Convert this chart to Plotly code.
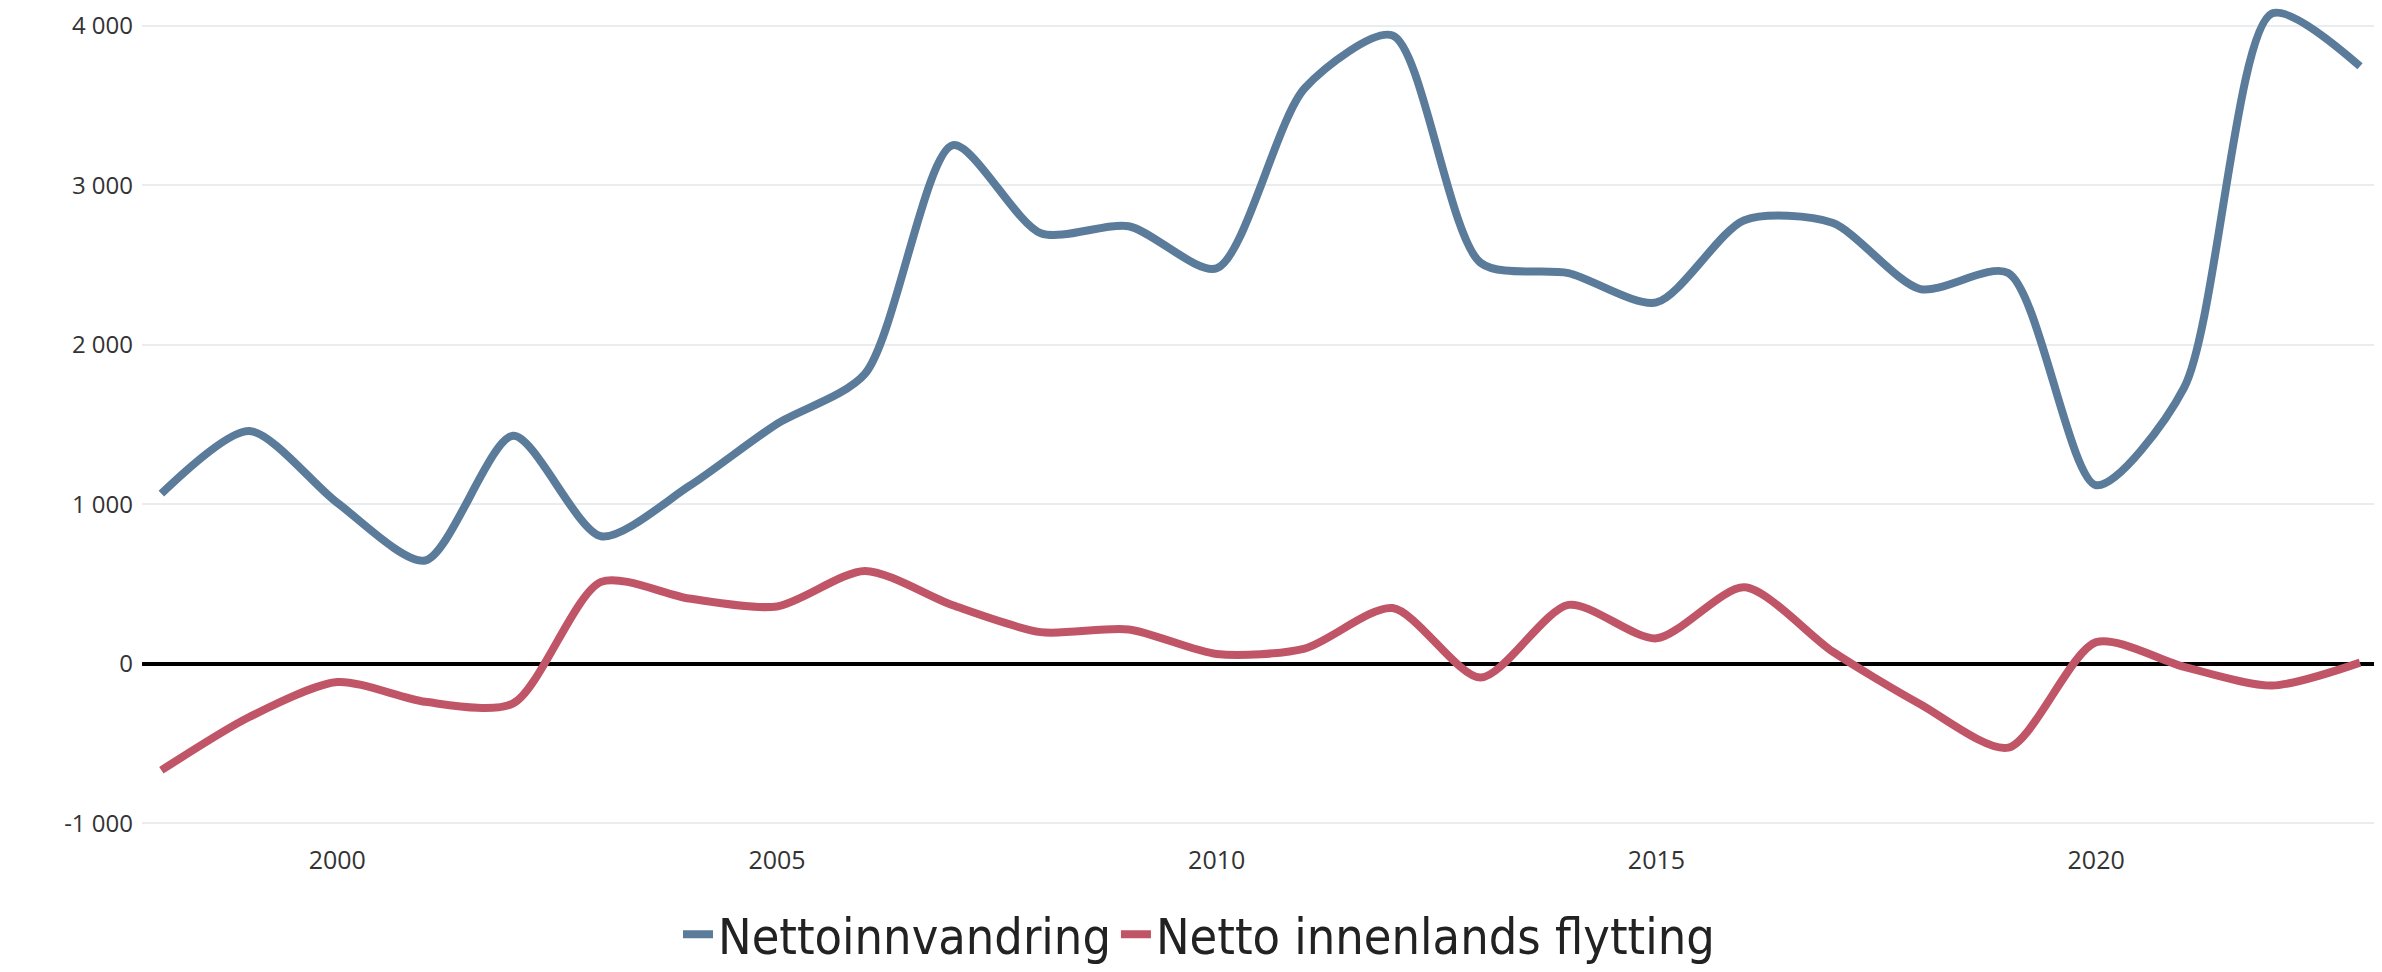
import plotly.graph_objects as go

years = list(range(1998, 2024))
nettoinnvandring = [1067, 1460, 1010, 648, 1430, 800, 1114, 1505, 1818, 3252,
                    2700, 2744, 2480, 3609, 3940, 2515, 2450, 2266, 2782, 2765,
                    2350, 2451, 1120, 1732, 4078, 3747]
netto_innenlands = [-667, -333, -114, -238, -248, 514, 410, 360, 583, 367,
                    199, 216, 62, 96, 350, -86, 370, 160, 480, 78,
                    -253, -525, 136, -19, -136, 8]

x_tickvals = [2000, 2005, 2010, 2015, 2020]
y_tickvals = [-1000, 0, 1000, 2000, 3000, 4000]
y_ticktext = ["-1 000", "0", "1 000", "2 000", "3 000", "4 000"]

BLUE = "#5b7b9b"
RED = "#c05567"

fig = go.Figure()
fig.add_trace(go.Scatter(x=years, y=nettoinnvandring, mode="lines",
                         name="Nettoinnvandring",
                         line=dict(color=BLUE, width=8, shape="spline", smoothing=0.75)))
fig.add_trace(go.Scatter(x=years, y=netto_innenlands, mode="lines",
                         name="Netto innenlands flytting",
                         line=dict(color=RED, width=8, shape="spline", smoothing=0.75)))

fig.update_layout(
    width=2382, height=972,
    paper_bgcolor="white", plot_bgcolor="white",
    margin=dict(l=134, r=8, t=0, b=141),
    font=dict(family="Open Sans, DejaVu Sans", color="#333333", size=24),
    showlegend=True,
    legend=dict(orientation="h", xref="container", yref="container",
                x=0.5, xanchor="center", y=0.047, yanchor="middle",
                font=dict(family="Liberation Sans Narrow, DejaVu Sans Condensed, sans-serif",
                          size=50, color="#222222"),
                itemwidth=30, tracegroupgap=0),
    xaxis=dict(range=[1997.78, 2023.25], tickvals=x_tickvals,
               showgrid=False, zeroline=False, showline=False,
               ticks="", ticklabelstandoff=4,
               tickfont=dict(size=25, color="#333333")),
    yaxis=dict(range=[-1098, 4112], tickvals=y_tickvals, ticktext=y_ticktext,
               showgrid=True, gridcolor="#e9edf0", gridwidth=2,
               zeroline=True, zerolinecolor="black", zerolinewidth=4,
               showline=False, ticks="", ticklabelstandoff=8,
               tickfont=dict(size=24, color="#333333")),
)

fig.write_html("out.html")
